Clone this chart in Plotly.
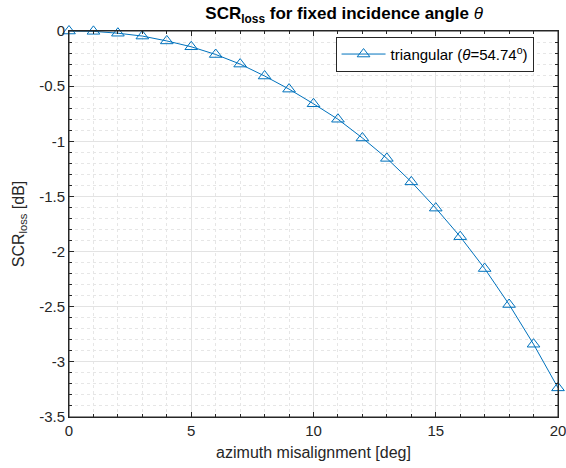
import plotly.graph_objects as go

azimuth_deg = list(range(0, 21))
scr_loss_db = [0.0, -0.003, -0.02, -0.046, -0.09, -0.143, -0.213, -0.30, -0.408, -0.527,
               -0.66, -0.80, -0.97, -1.155, -1.368, -1.606, -1.865, -2.154, -2.48, -2.84, -3.236]

x_ticks = [0, 5, 10, 15, 20]
y_ticks = [0, -0.5, -1, -1.5, -2, -2.5, -3, -3.5]
y_ticktext = ["0", "-0.5", "-1", "-1.5", "-2", "-2.5", "-3", "-3.5"]

blue = "#0072BD"
font = "Liberation Sans, Arial, sans-serif"

fig = go.Figure()
fig.add_trace(go.Scatter(
    x=azimuth_deg, y=scr_loss_db, mode="lines+markers",
    line=dict(color=blue, width=1),
    marker=dict(symbol="triangle-up-open", size=11, color=blue, line=dict(width=1, color=blue)),
    name="triangular (<i>θ</i>=54.74<sup>o</sup>)",
    cliponaxis=False,
))

axis_common = dict(
    showline=True, linecolor="#262626", linewidth=1, mirror="ticks",
    ticks="inside", ticklen=5, tickcolor="#262626",
    showgrid=True, gridcolor="#e3e3e3", gridwidth=1,
    zeroline=False, automargin=False, ticklabeloverflow="allow",
    tickfont=dict(family=font, size=15, color="#262626"),
)

fig.update_xaxes(
    range=[0, 20], tickvals=x_ticks,
    title=dict(text="azimuth misalignment [deg]", font=dict(family=font, size=16, color="#262626"), standoff=8),
    minor=dict(dtick=1, showgrid=True, gridcolor="#e6e6e6", griddash="dot", ticks="inside", ticklen=3, tickcolor="#262626"),
    **axis_common,
)
fig.update_yaxes(
    range=[-3.5, 0], tickvals=y_ticks, ticktext=y_ticktext,
    title=dict(text="SCR<sub>loss</sub> [dB]", font=dict(family=font, size=16, color="#262626"), standoff=10),
    minor=dict(dtick=0.1, showgrid=True, gridcolor="#e6e6e6", griddash="dot", ticks="inside", ticklen=3, tickcolor="#262626"),
    **axis_common,
)

fig.add_shape(type="rect", xref="paper", yref="paper", x0=0, x1=1, y0=0, y1=1,
              line=dict(color="#262626", width=1), fillcolor="rgba(0,0,0,0)", layer="above")

fig.update_layout(
    width=566, height=468,
    margin=dict(l=69, r=8, t=31, b=51),
    paper_bgcolor="white", plot_bgcolor="white",
    title=dict(text="<b>SCR<sub>loss</sub> for fixed incidence angle </b><i>θ</i>",
               x=318.5 / 566, xanchor="center", xref="paper",
               y=1 - 13 / 468, yanchor="middle", yref="container",
               font=dict(family=font, size=17, color="black")),
    showlegend=True,
    legend=dict(x=0.95, xanchor="right", y=0.985, yanchor="top",
                bgcolor="white", bordercolor="#262626", borderwidth=1,
                itemwidth=44,
                font=dict(family=font, size=15, color="black")),
)

fig.write_html(
    "out.html",
    config={"displayModeBar": False},
    post_script="document.body.style.margin='0';document.body.style.padding='0';document.body.style.overflow='hidden';",
)
